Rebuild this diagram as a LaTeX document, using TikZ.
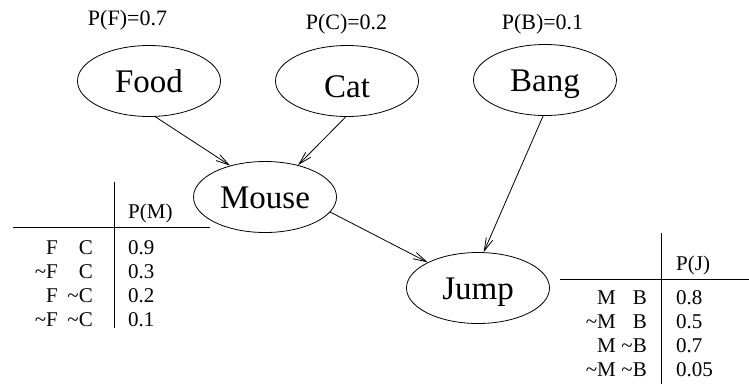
\documentclass[tikz,border=0pt]{standalone}
\usepackage{fontspec}
\setmainfont{Liberation Serif}
\usetikzlibrary{shapes.geometric, arrows.meta}

\tikzset{
  var/.style={draw, ellipse, line width=0.8pt, inner sep=0pt,
    minimum width=143pt, minimum height=71pt,
    font=\fontsize{33}{36}\selectfont, text height=22pt, text depth=0pt},
  prior/.style={font=\fontsize{22}{24}\selectfont, inner sep=0pt, anchor=base},
  cpt/.style={font=\fontsize{21}{24}\selectfont, inner sep=0pt},
  dep/.style={line width=0.8pt, -{Straight Barb[length=13pt, width=7pt]}},
  rule/.style={line width=0.8pt}
}

\begin{document}
\begin{tikzpicture}[x=1pt, y=-1pt]
\useasboundingbox (0,0) rectangle (749,384);

% Variables
\node[var] (food) at (149,81) {Food};
\node[var, text height=32pt] (cat) at (347,81) {Cat};
\node[var] (bang) at (545,80) {Bang};
\node[var] (mouse) at (265,197) {Mouse};
\node[var] (jump) at (478,288) {Jump};

% Priors
\node[prior] (pf) at (127.5,25.5) {P(F)=0.7};
\node[prior] (pc) at (346.5,29.5) {P(C)=0.2};
\node[prior] (pb) at (542.5,29) {P(B)=0.1};

% Dependencies
\draw[dep] (food.-80) -- (mouse.138);
\draw[dep] (cat.-92) -- (mouse.44);
\draw[dep] (mouse.-13) -- (jump.153);
\draw[dep] (bang.-93) -- (jump.81);

% Table for Mouse
\draw[rule] (114,182) -- (114,328);
\draw[rule] (13,227) -- (210,227);
\node[cpt, anchor=base west] (pm) at (128,218) {P(M)};
\foreach \f/\c/\p [count=\i] in {F/C/0.9, \textasciitilde F/C/0.3,
    F/\textasciitilde C/0.2, \textasciitilde F/\textasciitilde C/0.1}{
  \node[cpt, anchor=base east] (mf\i) at (58,229.7+24.3*\i) {\f};
  \node[cpt, anchor=base east] (mc\i) at (93,229.7+24.3*\i) {\c};
  \node[cpt, anchor=base west] (mp\i) at (128,229.7+24.3*\i) {\p};
}

% Table for Jump
\draw[rule] (661,233) -- (661,384);
\draw[rule] (560,279) -- (749,279);
\node[cpt, anchor=base west] (pj) at (676,270) {P(J)};
\foreach \m/\b/\p [count=\i] in {M/B/0.8, \textasciitilde M/B/0.5,
    M/\textasciitilde B/0.7, \textasciitilde M/\textasciitilde B/0.05}{
  \node[cpt, anchor=base east] (jm\i) at (616,279.7+24.3*\i) {\m};
  \node[cpt, anchor=base east] (jb\i) at (647,279.7+24.3*\i) {\b};
  \node[cpt, anchor=base west] (jp\i) at (676,279.7+24.3*\i) {\p};
}
\end{tikzpicture}
\end{document}
